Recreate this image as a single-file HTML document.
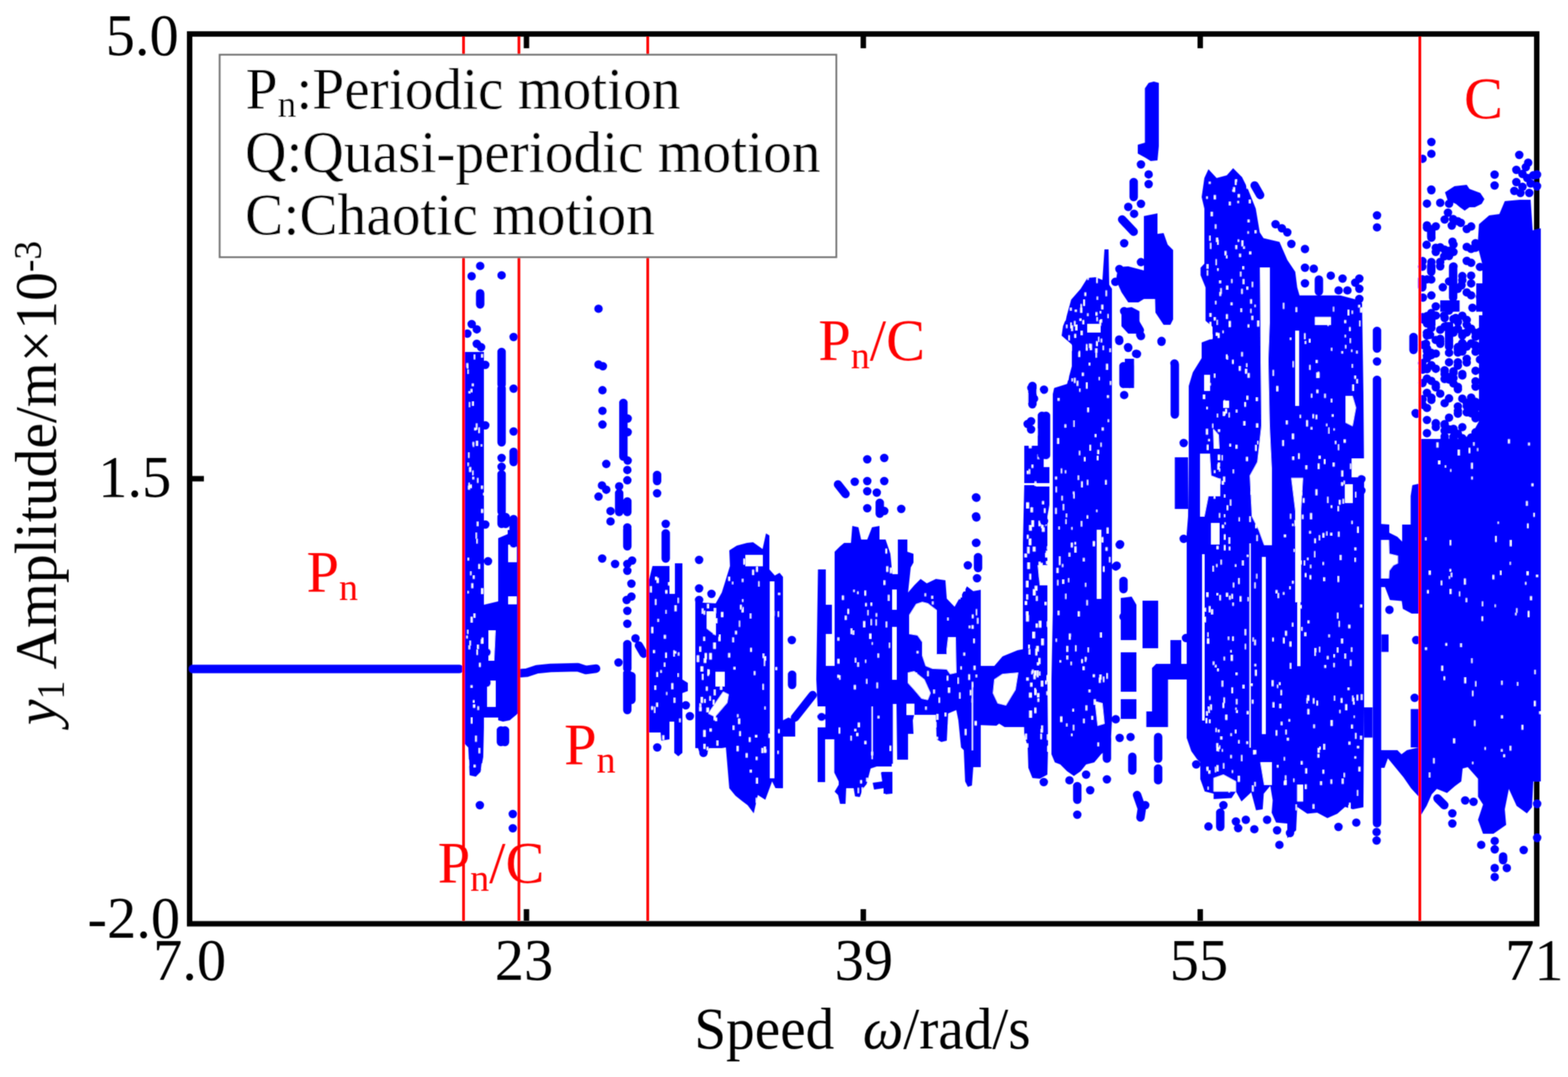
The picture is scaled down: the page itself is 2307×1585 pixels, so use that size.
<!DOCTYPE html>
<html><head><meta charset="utf-8"><title>Bifurcation diagram</title>
<style>html,body{margin:0;padding:0;background:#fff;}body{width:2307px;height:1585px;overflow:hidden}svg{display:block}text{font-family:"Liberation Serif", "Times New Roman", serif;}</style>
</head><body>
<svg width="2307" height="1585" viewBox="0 0 2307 1585">
<defs><filter id="soft" filterUnits="userSpaceOnUse" x="0" y="0" width="2307" height="1585"><feConvolveMatrix order="3" kernelMatrix="1 2 1 2 6 2 1 2 1" divisor="18" edgeMode="duplicate"/></filter></defs>
<rect width="2307" height="1585" fill="#fff"/>
<g filter="url(#soft)">
<rect x="279" y="50" width="1982" height="1309.5" fill="none" stroke="#000" stroke-width="8"/>
<path d="M774.6,1355V1338M774.6,54V71M1270.2,1355V1338M1270.2,54V71M1765.9,1355V1338M1765.9,54V71M283,704.5H300M2257,704.5H2240" stroke="#000" stroke-width="8" fill="none"/>
<g fill="#0000ff" stroke="none">
<polygon points="684,518 712,518 712,1070 711,1114 707,1136 700,1143 691,1141 689,1100 684,1095"/>
<polygon points="733,792 747,786 747,780 762,780 762,1050 750,1060 740,1062 733,1060"/>
<polygon points="712,890 733,885 733,1056 712,1056"/>
<polygon points="955,853 960,833 985,833 985,874 993,874 993,829 1004,829 1004,1000 1012,1005 1012,1017 1004,1020 1004,1108 998,1113 992,1108 992,1062 985,1062 985,1088 973,1090 972,1078 955,1078"/>
<polygon points="1023,885 1035,887 1053,888 1062,872 1067,856 1074,833 1073,810 1084,803 1099,799 1108,798 1122,808 1127,785 1132,788 1132,838 1140,847 1147,843 1152,849 1152,1060 1160,1056 1170,1060 1170,1084 1152,1084 1152,1160 1141,1160 1136,1150 1126,1177 1115,1170 1109,1197 1100,1185 1092,1179 1082,1171 1073,1160 1071,1136 1068,1100 1062,1101 1043,1101 1040,1110 1030,1110 1027,1101 1023,1101"/>
<polygon points="1203.5,838 1215,838 1215,890 1224,890 1224,933 1215,933 1215,980 1228,980 1228,812 1236,804 1242,799 1252,799 1254,774 1263,776 1267,794 1276,794 1283,776 1294,774 1294,794 1303,794 1310,815 1313,845 1321,845 1321,794 1335,794 1335,812 1344,815 1344,828 1340,835 1336,872 1345.5,861 1354.5,852 1363.6,858.6 1377,852 1391,854 1393,881 1404.5,893 1413.6,877 1422.7,863 1432,870 1443,868 1443,1129 1432,1129 1430,1156 1424,1158 1420,1150 1418,1104 1414,1100 1410,1060 1407,1045 1395,1050 1393,1090 1385,1092 1378,1088 1377,1052 1345,1052 1343,1060 1344,1080 1336,1080 1336,1118 1320,1118 1319,1036 1313.6,1036 1313.6,1124 1300,1126 1300,1098 1312,1096 1312,1128 1290,1128 1281,1131 1275,1154 1270,1160 1265,1173 1258,1172 1256,1160 1245,1160 1244,1183 1236,1183 1233,1170 1228,1165 1234,1155 1234,1150 1227.5,1137 1227.5,1088 1214,1088 1214,1151 1203,1151 1203,1072 1203,1040 1201,1000"/>
<polygon points="1296,1136 1312,1136 1312,1168 1303,1169 1300,1160 1286,1162 1284,1152 1298,1150"/>
<polygon points="1300,1136 1313,1136 1313,1168 1300,1168"/>
<polygon points="1440,980 1463,980 1475,966 1497,957 1507,955 1507,1070 1478,1070 1470,1065 1466,1068 1440,1067"/>
<polygon points="1625,367 1631,367 1632,419 1636,425 1636,1060 1634,1099 1620,1110 1610,1122 1598,1125 1590,1135 1580,1142 1570,1135 1560,1125 1552,1122 1547,1110 1547,1000 1549,900 1549,580 1551,571 1570,565 1577,539 1577,507 1562,494 1564,480 1568,470 1576,441 1590,425 1600,409 1612,408 1622,412"/>
<polygon points="1507,714 1523,714 1525,716 1544,716 1544,743 1541,760 1541,1000 1542,1100 1541,1140 1530,1146 1519,1145 1513,1130 1512,1099 1507,1080 1505,1000 1505,800"/>
<polygon points="1507,656 1544,656 1544,711 1507,711"/>
<polygon points="1684.5,130 1690,122 1697.6,120 1705,122 1705,215 1703,236 1693,237 1685,232 1674,226 1674,213 1684.5,210"/>
<polygon points="1683,318 1703,314 1703,440 1683,440"/>
<polygon points="1697,345 1712,343 1718,360 1726,368 1726,470 1722,478 1712,478 1700,460"/>
<polygon points="1645,393 1660,392 1683,398 1683,440 1675,445 1660,445 1650,430 1642,412"/>
<polygon points="1650,454 1665,452 1676.5,458 1676.5,491 1660,491 1650,480"/>
<polygon points="1655,528 1668.5,528 1668.5,571 1655,571"/>
<polygon points="1649,880 1665,878 1672,890 1672,942 1649,942"/>
<polygon points="1649,960 1672,960 1672,1018 1649,1018"/>
<polygon points="1649,1029 1672,1029 1672,1058 1649,1058"/>
<polygon points="1681,884 1704,884 1704,954 1681,954"/>
<polygon points="1695,983 1701,977 1747.5,977 1747.5,1000 1718.5,1000 1718.5,1070 1695,1070"/>
<polygon points="1686.6,1047 1701,1047 1701,1070 1686.6,1070"/>
<polygon points="1722,942 1738,942 1738,983 1722,983"/>
<polygon points="1728.5,673 1748,673 1748,749 1728.5,749"/>
<polygon points="1746,1086 1746,1008 1746,785 1748,760 1749,680 1749,568 1755,548 1768,527 1768,504 1784,498 1784,481 1773.7,472 1773.7,423 1766.4,405 1766.4,394 1772,388 1772,307 1768,290 1772,262 1778,249 1790,262 1805,258 1814.3,247.6 1827.3,260.6 1836,278 1847.6,307 1853.5,342 1859,350.5 1882.5,356 1894,382.5 1905.7,400 1908.6,423 1912,434.7 1972,434.7 1994,440.5 2004,446 2006,580 2007,700 2007,1040 2006,1188 1990.6,1191 1979,1187.6 1967.7,1197.5 1953,1204 1938,1196 1923.4,1197.5 1908.6,1187.6 1907,1222 1894,1233.5 1894,1212 1877.5,1210.6 1871,1196 1872.5,1177.8 1869,1156.5 1859.4,1168 1857.8,1191 1848,1192.5 1841,1166 1826.6,1179.4 1818.4,1164.7 1812,1174.5 1785.6,1176 1785.6,1168 1772.5,1164.7 1766,1146.6 1766,1122 1761,1117 1752.8,1105.6"/>
<polygon points="2007,1041 2019.5,1041 2019.5,1085.5 2007,1085.5"/>
<polygon points="2087,712 2078,714 2075.5,730 2075.5,772 2063,772 2063,797 2056,790 2044,784 2044,772 2031,771 2031,864 2037.7,864 2045,883 2062.4,884.5 2064,896 2077,903 2087,903"/>
<polygon points="2032.4,933.7 2043,933.7 2043,959.4 2032.4,959.4"/>
<polygon points="2075.6,1043.5 2087,1043.5 2087,1100 2075.6,1100"/>
<polygon points="2032,1104 2056,1104 2062,1110 2070,1104 2087,1100 2087,1172 2076,1160 2065,1144 2042,1116 2037,1130 2032,1130"/>
<polygon points="2176,330 2191,317 2206,315 2214,296 2236,294 2252,294 2255,339 2267,336 2267,1150 2256,1150 2254,1188 2246.5,1197 2231.4,1186 2220,1161 2214,1191 2216,1214 2197.3,1227 2182,1227 2174.6,1206.5 2182,1184 2174.6,1172.5 2174.6,1146 2159.5,1129 2152,1131 2150,1150 2140.5,1157 2129,1167 2114,1161 2106.5,1169 2099,1186 2091,1199 2089,1199 2089,646 2150,646 2165,640 2176,620 2176,464 2181,464 2181,389 2174,362"/>
<polygon points="2126,283 2140,274 2158,272 2162,278 2178,284 2184,293 2180,300 2170,305 2162,305 2155,310 2148,305 2142,300 2130,295"/>
<polygon points="2119,442 2147.5,442 2147.5,458.7 2119,458.7"/>
<polygon points="2126,474 2138,474 2138,506 2126,506"/>
<polygon points="2172,417 2183.4,417 2183.4,458.7 2172,458.7"/>
</g>
<g fill="#fff">
<polygon points="748,802 760,802 760,827 748,827"/>
<polygon points="748,878 760,878 760,889 748,889"/>
<polygon points="717,1002 729,1002 729,1040 717,1040"/>
<polygon points="719,928 729,928 727,972 719,972"/>
<polygon points="1097,817 1122,817 1122,833 1097,833"/>
<polygon points="1040,900 1053,900 1053,935 1040,925"/>
<polygon points="1042,1050 1064,1018 1072,1022 1070,1034 1052,1055"/>
<polygon points="1053,989 1066,989 1066,1010 1053,1010"/>
<polygon points="1133,856 1139,856 1139,1145 1133,1145"/>
<polygon points="1338,905 1348,889 1357,886 1365,888 1378,898 1378,963 1393,963 1393,955 1395,938 1406,938 1407,990 1398,992 1393,985 1372,984 1362,980 1357,965 1357,945 1350,935 1338,933"/>
<polygon points="1336,990 1345,988 1360,1000 1369,1020 1365,1030 1356,1028 1345,1015 1336,1005"/>
<polygon points="1334,1036 1345,1036 1345,1052 1334,1052"/>
<polygon points="1313,823 1319,823 1319,843 1313,843"/>
<polygon points="1313,868 1319,868 1319,897 1313,897"/>
<polygon points="1313,923 1319,923 1319,1000 1313,1000"/>
<polygon points="1203,1040 1214,1040 1214,1070 1203,1070"/>
<polygon points="1282.5,1040 1284,1040 1284,1117 1282.5,1117"/>
<polygon points="1430,1006 1431.5,1006 1431.5,1104 1430,1104"/>
<polygon points="1463,1000 1475,992 1498,990 1494,1015 1480,1038 1468,1035 1461,1020"/>
<polygon points="1614,780 1620,780 1620,881 1614,881"/>
<polygon points="1611,1032 1622,1035 1625,1065 1615,1068"/>
<polygon points="1600,477 1619,477 1619,489 1600,489"/>
<polygon points="1527,832 1541,832 1541,861 1530,861"/>
<polygon points="1536,661 1544,661 1544,687 1536,687"/>
<polygon points="1854,394 1868,394 1868,475 1866,530 1868,626 1871,689 1871,802 1860,802 1852,780 1842,760 1839,700 1850,680 1856,626 1855,533"/>
<polygon points="1934.7,466.6 1958,466.6 1958,478 1934.7,478"/>
<polygon points="1906,487 1911,487 1911,597 1906,597"/>
<polygon points="1900,703.5 1917,703.5 1914,753 1914,886 1906,886 1906,753"/>
<polygon points="1980,583 1990,583 1995,600 1990,627 1980,622"/>
<polygon points="1989,675 2007,675 2007,702 1989,702"/>
<polygon points="1979,713 1990,713 1990,740 1979,740"/>
<polygon points="1854.5,1122 1871,1122 1871,1155 1860,1155"/>
<polygon points="1785.6,1145 1800,1140 1818.4,1150 1818.4,1164.7 1785.6,1164.7"/>
<polygon points="1908.6,1155 1917,1155 1917,1179.4 1908.6,1179.4"/>
<polygon points="1766,668 1780,668 1782,700 1795,705 1795,730 1778,730 1772,760 1766,760"/>
<polygon points="1785,631 1793,640 1794,660 1786,660"/>
<polygon points="1772,552 1780,552 1780,575 1772,575"/>
<polygon points="1800,590 1808,590 1808,600 1800,600"/>
<polygon points="1782,770 1794,770 1794,801 1782,801"/>
<polygon points="1769,816 1772,816 1772,1060 1769,1060"/>
<polygon points="1838.5,800 1840,800 1840,1100 1838.5,1100"/>
<polygon points="1857,820 1862,820 1862,1080 1857,1080"/>
<polygon points="1909,800 1913,800 1913,980 1909,980"/>
<polygon points="2031.5,795 2043.5,795 2044,815 2056.6,818 2056.6,829 2050,832 2044,840 2043.5,851 2031.5,851"/>
</g>
<path fill="#fff" d="M1522.4,862.3h3.8v6.8h-3.8zM1524.3,877.2h2.4v7.1h-2.4zM1528.4,988.2h2.2v5.8h-2.2zM1510.1,997.2h3.4v4.3h-3.4zM1540.4,1081.0h3.3v7.7h-3.3zM1512.4,568.1h3.1v4.4h-3.1zM1513.5,690.6h2.1v6.8h-2.1zM1522.0,1014.9h3.0v7.8h-3.0zM1524.0,917.7h2.9v5.7h-2.9zM1540.9,1097.7h3.7v8.2h-3.7zM1517.7,684.0h2.6v4.4h-2.6zM1533.1,776.2h3.7v6.3h-3.7zM1539.6,1017.5h2.0v5.3h-2.0zM1537.9,813.8h4.0v6.4h-4.0zM1509.5,899.9h3.6v5.6h-3.6zM1510.0,739.6h3.9v8.5h-3.9zM1511.0,693.0h2.2v4.4h-2.2zM1534.1,655.9h3.1v6.7h-3.1zM1513.5,955.2h2.3v7.9h-2.3zM1511.0,787.2h2.4v5.6h-2.4zM1540.0,993.8h2.6v9.3h-2.6zM1514.2,772.9h3.7v7.9h-3.7zM1510.4,1094.2h2.4v5.5h-2.4zM1533.3,737.6h2.6v4.4h-2.6zM1510.1,874.7h2.5v7.6h-2.5zM1519.6,804.7h3.9v6.9h-3.9zM1526.5,1027.9h2.4v4.9h-2.4zM1537.9,1001.6h2.5v5.1h-2.5zM1532.1,1067.8h2.4v9.7h-2.4zM1537.0,885.9h2.8v4.6h-2.8zM1508.3,1079.8h2.5v8.2h-2.5zM1515.7,1004.8h3.2v5.8h-3.2zM1513.0,949.0h2.1v5.4h-2.1zM1526.0,1020.3h3.2v5.7h-3.2zM1538.2,670.1h2.0v5.6h-2.0zM1522.2,592.6h2.4v6.2h-2.4zM1526.5,631.1h2.7v9.3h-2.7zM1540.3,914.7h3.4v7.5h-3.4zM1511.8,578.9h2.0v9.5h-2.0zM1530.8,1079.9h2.0v7.8h-2.0zM1523.4,954.5h2.6v10.0h-2.6zM1509.6,854.9h3.5v9.4h-3.5zM1532.1,940.0h3.6v9.5h-3.6zM1519.0,930.0h3.8v9.2h-3.8zM1521.2,986.9h3.7v7.4h-3.7zM1528.2,766.5h3.2v7.7h-3.2zM1509.7,905.3h4.0v9.3h-4.0zM1531.8,769.8h3.5v7.5h-3.5zM1522.0,1012.7h2.2v8.5h-2.2zM1508.0,884.7h3.0v5.4h-3.0zM1530.7,828.5h3.2v9.5h-3.2zM1515.7,566.1h2.6v8.1h-2.6zM1513.9,651.6h3.8v8.0h-3.8zM1522.0,1041.5h2.7v8.0h-2.7zM1513.7,792.7h3.6v9.5h-3.6zM1536.9,767.6h3.2v5.9h-3.2zM1511.6,828.1h3.7v9.1h-3.7zM1531.2,1073.0h2.6v5.0h-2.6zM1522.3,708.6h2.4v6.5h-2.4zM1528.3,826.7h2.6v9.0h-2.6zM1540.4,804.3h2.1v4.2h-2.1zM1536.7,582.4h3.4v7.4h-3.4zM1517.5,987.4h2.0v4.8h-2.0zM1522.5,573.4h3.7v5.4h-3.7zM1511.8,585.3h3.3v6.7h-3.3zM1528.4,913.7h3.6v9.8h-3.6zM1530.3,667.6h3.0v5.1h-3.0zM1507.4,815.0h3.4v5.1h-3.4zM1516.3,746.7h3.4v7.1h-3.4zM1527.9,968.4h2.8v8.8h-2.8zM1537.8,607.1h3.9v8.3h-3.9zM1511.4,804.9h3.3v9.5h-3.3zM1519.8,867.2h3.8v8.8h-3.8zM1539.1,810.4h3.3v5.2h-3.3zM1531.5,1001.9h3.3v8.3h-3.3zM1514.3,1046.0h4.0v9.9h-4.0zM1525.3,987.0h2.6v9.5h-2.6zM1536.1,748.2h2.2v6.6h-2.2zM1525.7,974.8h3.0v4.2h-3.0zM1534.5,594.6h3.6v5.0h-3.6zM1518.4,985.5h2.3v4.9h-2.3zM1524.6,950.7h3.7v8.1h-3.7zM1539.2,826.0h3.9v4.5h-3.9zM1514.5,844.4h2.6v8.4h-2.6zM1528.7,842.3h3.7v7.4h-3.7zM1517.6,765.9h3.7v9.4h-3.7zM1514.1,1019.4h3.9v7.1h-3.9zM1526.5,668.5h3.1v7.0h-3.1zM1527.6,575.0h3.9v7.1h-3.9zM1520.6,992.6h3.1v6.9h-3.1zM1597.7,511.8h2.5v3.9h-2.5zM1565.7,463.7h1.9v7.9h-1.9zM1612.7,502.2h2.3v7.0h-2.3zM1575.0,474.8h1.7v8.4h-1.7zM1569.1,539.2h1.6v7.1h-1.6zM1588.3,468.8h2.8v3.1h-2.8zM1569.2,555.6h2.3v3.5h-2.3zM1633.1,560.9h1.7v5.5h-1.7zM1574.3,453.1h2.4v4.0h-2.4zM1613.1,408.7h1.8v7.9h-1.8zM1592.6,471.2h2.4v5.9h-2.4zM1591.5,405.2h2.6v8.8h-2.6zM1632.4,512.8h2.0v5.2h-2.0zM1612.6,514.5h1.7v4.4h-1.7zM1590.1,486.9h2.7v6.0h-2.7zM1566.9,539.8h2.1v6.1h-2.1zM1580.3,472.6h2.1v7.6h-2.1zM1572.1,493.5h1.8v7.2h-1.8zM1567.5,447.0h2.0v6.8h-2.0zM1568.6,478.1h1.8v4.7h-1.8zM1597.9,563.0h2.2v8.7h-2.2zM1576.6,557.1h2.0v4.1h-2.0zM1616.6,555.0h1.5v4.6h-1.5zM1618.2,458.1h1.9v3.1h-1.9zM1567.8,505.2h3.0v9.0h-3.0zM1599.7,404.1h2.0v7.7h-2.0zM1622.4,508.7h1.8v6.2h-1.8zM1597.9,506.6h1.9v8.7h-1.9zM1626.7,427.6h1.9v8.2h-1.9zM1584.2,560.5h2.3v7.2h-2.3zM1613.6,436.4h1.9v4.5h-1.9zM1612.1,518.0h1.7v8.3h-1.7zM1594.0,441.0h2.2v8.9h-2.2zM1603.6,506.2h2.9v8.8h-2.9zM1617.5,471.0h2.4v8.4h-2.4zM1619.5,498.6h2.0v5.2h-2.0zM1615.8,495.8h1.5v7.3h-1.5zM1627.4,535.6h2.8v8.5h-2.8zM1601.9,534.1h2.1v3.6h-2.1zM1589.4,453.1h2.9v7.1h-2.9zM1602.4,505.8h1.7v6.2h-1.7zM1613.3,467.0h1.9v5.4h-1.9zM1587.3,516.5h1.7v3.5h-1.7zM1586.6,518.3h2.6v7.0h-2.6zM1629.5,462.2h1.5v5.9h-1.5zM1595.6,430.5h2.5v5.0h-2.5zM1581.4,455.7h2.9v3.0h-2.9zM1589.9,447.5h1.8v5.6h-1.8zM1580.2,556.2h2.3v7.2h-2.3zM1576.2,479.0h2.4v8.1h-2.4zM1582.2,478.1h2.8v8.0h-2.8zM1580.7,491.5h2.6v5.4h-2.6zM1611.5,512.8h3.0v6.3h-3.0zM1612.0,459.5h2.6v4.9h-2.6zM1599.5,461.3h2.0v3.8h-2.0zM1580.6,492.5h1.9v3.3h-1.9zM1620.4,448.6h2.9v6.6h-2.9zM1591.8,548.4h2.8v4.9h-2.8zM1573.7,509.0h2.8v6.7h-2.8zM1619.1,470.1h2.4v4.6h-2.4zM1572.7,933.2h2.5v8.1h-2.5zM1566.9,692.2h1.7v4.4h-1.7zM1610.7,639.0h2.3v4.3h-2.3zM1575.6,798.7h2.8v6.7h-2.8zM1553.2,716.2h1.7v8.2h-1.7zM1616.8,997.2h2.7v7.5h-2.7zM1627.9,990.7h1.9v8.1h-1.9zM1590.9,970.2h2.3v5.6h-2.3zM1581.1,797.8h2.0v3.7h-2.0zM1617.6,993.1h3.0v7.1h-3.0zM1596.3,966.7h1.7v7.1h-1.7zM1587.5,663.6h1.8v6.1h-1.8zM1572.3,813.5h2.4v5.4h-2.4zM1562.5,830.2h1.9v4.4h-1.9zM1567.6,764.2h1.6v6.9h-1.6zM1628.3,776.5h2.6v8.6h-2.6zM1555.5,645.1h2.7v8.0h-2.7zM1603.1,654.7h2.1v8.2h-2.1zM1622.9,995.7h1.8v8.1h-1.8zM1582.0,949.8h1.7v8.8h-1.7zM1600.3,953.0h1.8v6.7h-1.8zM1598.5,883.3h2.0v7.4h-2.0zM1579.3,726.5h1.7v7.1h-1.7zM1561.0,689.5h1.6v6.9h-1.6zM1596.5,858.0h1.6v5.6h-1.6zM1579.4,619.1h1.5v9.0h-1.5zM1561.7,729.8h1.9v6.6h-1.9zM1558.2,819.0h2.1v8.0h-2.1zM1552.5,747.4h2.2v8.8h-2.2zM1593.3,821.3h2.5v4.8h-2.5zM1554.5,835.7h2.9v7.4h-2.9zM1572.7,932.5h2.8v4.6h-2.8zM1599.0,758.4h1.9v4.7h-1.9zM1568.3,755.9h1.6v5.4h-1.6zM1558.9,971.8h2.4v3.0h-2.4zM1613.9,670.9h2.2v6.3h-2.2zM1578.6,723.4h2.2v3.8h-2.2zM1621.1,629.3h2.7v4.3h-2.7zM1576.3,775.8h1.6v3.8h-1.6zM1580.9,804.2h2.8v8.9h-2.8zM1555.5,853.6h1.7v7.8h-1.7zM1577.8,1043.2h2.3v3.8h-2.3zM1552.4,701.5h2.8v3.9h-2.8zM1590.3,767.0h2.0v7.8h-2.0zM1569.1,950.7h2.5v8.6h-2.5zM1593.6,1057.8h2.2v6.4h-2.2zM1601.6,1015.0h2.8v3.7h-2.8zM1563.0,852.9h2.7v6.2h-2.7zM1576.0,1079.8h1.9v3.5h-1.9zM1556.2,586.1h2.6v3.6h-2.6zM1609.3,1029.2h3.0v7.9h-3.0zM1585.9,899.7h2.7v7.3h-2.7zM1575.2,973.9h1.7v4.9h-1.7zM1631.7,819.8h1.9v7.7h-1.9zM1588.0,571.9h1.5v4.6h-1.5zM1578.6,1066.7h1.9v8.1h-1.9zM1620.3,790.6h3.0v7.6h-3.0zM1590.7,708.6h2.2v8.4h-2.2zM1594.9,672.8h2.1v5.9h-2.1zM1567.3,873.7h1.6v7.9h-1.6zM1566.3,624.5h2.4v4.8h-2.4zM1622.8,833.4h2.3v8.0h-2.3zM1569.1,965.0h2.5v5.6h-2.5zM1628.7,581.7h2.8v3.9h-2.8zM1619.2,651.5h1.6v6.0h-1.6zM1626.1,706.4h2.2v6.6h-2.2zM1571.5,851.1h1.5v5.7h-1.5zM1612.8,750.2h1.8v3.3h-1.8zM1608.0,796.4h2.9v7.4h-2.9zM1560.0,1054.5h2.9v7.9h-2.9zM1618.5,931.1h2.6v7.0h-2.6zM1599.3,706.3h1.7v7.4h-1.7zM1599.7,599.9h2.5v6.7h-2.5zM1592.9,980.8h2.8v5.3h-2.8zM1617.2,834.6h2.4v5.5h-2.4zM1626.6,805.6h2.9v5.0h-2.9zM1605.8,1053.7h2.5v5.3h-2.5zM1558.2,823.5h2.1v7.9h-2.1zM1614.7,1092.7h2.2v5.5h-2.2zM1597.1,967.3h1.6v4.3h-1.6zM1563.7,742.0h1.9v8.8h-1.9zM1568.6,1064.7h1.9v4.2h-1.9zM1629.9,617.2h1.7v3.8h-1.7zM1557.4,774.9h1.8v4.0h-1.8zM1553.3,940.1h1.6v4.4h-1.6zM1597.2,1038.3h2.5v7.3h-2.5zM1608.0,992.5h2.8v3.9h-2.8zM1556.3,899.1h2.3v6.1h-2.3zM1614.5,662.3h2.6v5.6h-2.6zM1585.7,699.7h1.9v6.5h-1.9zM1778.5,892.3h2.5v8.6h-2.5zM1791.7,490.2h2.6v7.0h-2.6zM1794.2,875.8h2.1v7.7h-2.1zM1779.5,460.9h2.9v5.1h-2.9zM1790.8,983.9h2.4v3.9h-2.4zM1814.1,857.6h1.7v6.9h-1.7zM1779.8,563.4h1.6v4.2h-1.6zM1848.2,623.3h3.0v5.6h-3.0zM1818.6,1045.3h2.5v3.7h-2.5zM1817.1,830.4h1.8v3.6h-1.8zM1840.0,722.4h1.8v5.7h-1.8zM1787.5,978.4h2.3v3.6h-2.3zM1835.5,340.6h1.9v3.2h-1.9zM1829.2,362.5h2.3v3.6h-2.3zM1808.4,876.8h2.3v5.7h-2.3zM1808.8,653.3h2.4v3.6h-2.4zM1808.0,472.6h2.8v8.6h-2.8zM1775.3,389.0h2.6v6.4h-2.6zM1771.5,894.4h2.9v5.5h-2.9zM1797.8,772.5h2.9v4.6h-2.9zM1794.2,429.8h2.4v5.8h-2.4zM1790.5,609.1h1.6v4.9h-1.6zM1848.6,787.4h1.9v8.6h-1.9zM1798.7,486.4h1.6v3.9h-1.6zM1785.9,467.0h2.8v4.6h-2.8zM1789.9,803.5h2.9v4.7h-2.9zM1830.9,591.9h2.3v6.6h-2.3zM1845.4,941.5h2.3v8.0h-2.3zM1799.3,605.7h2.9v6.3h-2.9zM1831.9,543.0h2.9v6.7h-2.9zM1789.8,1100.3h2.2v5.0h-2.2zM1791.0,352.9h1.8v7.2h-1.8zM1781.3,492.8h2.2v6.3h-2.2zM1800.4,966.6h1.9v5.2h-1.9zM1804.0,376.0h1.8v3.9h-1.8zM1828.0,391.9h2.5v4.3h-2.5zM1821.8,850.9h2.0v8.6h-2.0zM1822.5,761.6h1.6v5.4h-1.6zM1791.3,682.9h2.9v8.2h-2.9zM1775.0,872.1h2.9v6.3h-2.9zM1777.7,1040.1h2.1v8.9h-2.1zM1840.0,1006.0h2.9v3.4h-2.9zM1833.5,534.7h1.7v5.3h-1.7zM1817.1,264.4h2.2v7.7h-2.2zM1809.6,735.3h1.9v8.8h-1.9zM1789.9,873.0h2.5v3.0h-2.5zM1849.7,471.9h3.0v8.6h-3.0zM1842.1,1029.7h2.1v5.7h-2.1zM1797.7,1102.4h1.5v3.8h-1.5zM1846.5,985.8h2.6v8.8h-2.6zM1811.9,1011.7h2.2v8.4h-2.2zM1775.6,654.5h2.4v7.8h-2.4zM1803.8,872.5h3.0v5.5h-3.0zM1786.0,287.3h2.8v5.9h-2.8zM1801.0,727.7h1.7v4.3h-1.7zM1788.9,489.6h2.8v4.5h-2.8zM1777.2,1040.0h2.3v3.2h-2.3zM1824.0,877.6h2.5v7.6h-2.5zM1803.9,462.4h2.6v6.8h-2.6zM1826.3,425.3h2.1v7.1h-2.1zM1800.8,802.2h2.2v7.5h-2.2zM1797.9,708.1h2.7v4.9h-2.7zM1784.1,832.9h1.7v8.1h-1.7zM1792.0,1073.7h2.3v3.9h-2.3zM1811.7,874.3h2.2v6.8h-2.2zM1799.5,1123.3h1.8v7.8h-1.8zM1771.9,716.4h1.6v3.8h-1.6zM1817.1,1073.9h2.0v5.4h-2.0zM1808.1,804.6h2.0v5.1h-2.0zM1838.3,760.1h2.0v7.9h-2.0zM1849.9,649.0h1.5v4.8h-1.5zM1841.8,414.7h1.8v7.8h-1.8zM1779.1,1024.5h1.8v5.3h-1.8zM1817.6,360.9h2.7v5.6h-2.7zM1831.6,947.6h1.6v7.9h-1.6zM1835.7,477.6h2.4v4.2h-2.4zM1813.1,936.7h2.1v6.2h-2.1zM1780.5,1036.8h2.4v8.0h-2.4zM1776.5,930.8h1.6v6.3h-1.6zM1788.5,1071.4h1.7v5.8h-1.7zM1807.7,607.3h1.6v7.0h-1.6zM1847.8,584.9h2.8v5.0h-2.8zM1791.9,669.3h3.0v7.7h-3.0zM1820.6,295.7h2.2v3.1h-2.2zM1775.0,598.7h1.9v3.6h-1.9zM1810.9,964.1h2.9v8.5h-2.9zM1804.1,420.6h2.9v5.5h-2.9zM1797.4,1001.7h2.3v8.7h-2.3zM1826.1,1111.3h1.7v8.7h-1.7zM1813.3,886.9h2.0v4.5h-2.0zM1793.7,413.0h2.9v3.7h-2.9zM1789.4,830.2h1.8v4.3h-1.8zM1790.2,470.7h1.5v7.4h-1.5zM1822.7,539.1h2.8v6.4h-2.8zM1787.6,1128.5h1.8v7.9h-1.8zM1835.3,262.6h2.8v5.5h-2.8zM1810.2,1111.3h2.2v4.4h-2.2zM1774.0,1056.9h2.2v7.3h-2.2zM1821.3,1142.0h2.9v8.6h-2.9zM1810.4,1079.3h2.0v3.7h-2.0zM1821.2,285.7h3.0v4.9h-3.0zM1803.9,521.7h2.0v6.2h-2.0zM1834.1,273.0h2.0v4.5h-2.0zM1846.7,655.0h2.2v8.6h-2.2zM1801.0,606.1h2.1v4.4h-2.1zM1826.3,518.2h2.3v6.4h-2.3zM1831.3,926.0h2.2v8.7h-2.2zM1845.7,1104.0h2.6v5.7h-2.6zM1798.8,1034.3h2.2v7.5h-2.2zM1801.0,588.8h1.5v7.4h-1.5zM1793.2,704.6h2.6v8.0h-2.6zM1845.6,857.2h1.8v8.6h-1.8zM1774.4,631.3h2.9v8.1h-2.9zM1817.6,1041.6h1.8v3.2h-1.8zM1793.7,1097.3h1.6v5.0h-1.6zM1810.6,445.3h2.8v3.6h-2.8zM1776.8,1157.7h1.5v4.3h-1.5zM1802.7,1052.3h2.0v6.4h-2.0zM1834.4,816.5h2.7v3.1h-2.7zM1813.3,278.8h2.8v3.2h-2.8zM1777.6,646.2h2.4v3.1h-2.4zM1821.2,352.5h2.0v3.3h-2.0zM1828.2,1008.1h2.7v4.9h-2.7zM1790.0,1126.2h2.7v8.8h-2.7zM1803.2,1051.8h2.5v7.7h-2.5zM1811.0,965.7h2.2v4.6h-2.2zM1808.2,296.9h2.5v5.0h-2.5zM1784.4,973.5h2.3v4.9h-2.3zM1843.8,1103.9h2.1v6.3h-2.1zM1770.0,581.0h3.0v6.1h-3.0zM1849.5,285.9h1.5v3.4h-1.5zM1776.0,939.6h3.0v7.6h-3.0zM1818.4,603.1h2.1v3.8h-2.1zM1801.8,369.5h2.7v6.2h-2.7zM1800.2,1026.6h2.0v8.2h-2.0zM1827.4,825.1h2.4v6.8h-2.4zM1842.2,1155.9h2.3v8.8h-2.3zM1789.6,1093.8h2.8v6.8h-2.8zM1778.8,1059.0h2.1v5.0h-2.1zM1846.1,338.9h2.5v4.4h-2.5zM1839.6,454.6h1.7v5.9h-1.7zM1806.6,936.9h1.9v4.8h-1.9zM1793.5,755.3h1.7v6.4h-1.7zM1835.6,878.9h1.9v5.9h-1.9zM1777.5,684.4h2.6v3.0h-2.6zM1821.8,1089.2h1.9v4.9h-1.9zM1824.5,400.0h1.9v6.7h-1.9zM1811.5,410.7h1.8v5.9h-1.8zM1839.4,440.6h2.5v6.2h-2.5zM1792.2,632.0h2.7v3.6h-2.7zM1813.8,690.9h1.7v5.5h-1.7zM1783.6,623.4h1.5v6.4h-1.5zM1834.4,1046.4h2.9v4.5h-2.9zM1834.0,582.5h2.6v5.8h-2.6zM1829.4,620.1h2.9v5.8h-2.9zM1833.9,422.0h2.6v4.3h-2.6zM1802.7,601.7h2.5v6.5h-2.5zM1792.0,1099.8h1.6v5.9h-1.6zM1780.4,357.6h1.8v8.7h-1.8zM1771.8,907.7h2.4v8.0h-2.4zM1838.0,370.3h2.9v3.9h-2.9zM1779.6,473.8h2.5v6.5h-2.5zM1825.2,454.0h2.2v5.0h-2.2zM1847.0,771.5h2.5v5.7h-2.5zM1779.3,346.9h1.8v7.4h-1.8zM1786.2,692.2h2.0v3.8h-2.0zM1799.6,701.5h2.9v7.7h-2.9zM1804.8,523.8h1.9v5.1h-1.9zM1812.5,1133.4h1.6v4.1h-1.6zM1801.7,768.7h1.6v3.1h-1.6zM1814.3,275.4h2.7v7.0h-2.7zM1807.4,1157.5h2.2v8.7h-2.2zM1787.5,330.2h2.1v6.2h-2.1zM1823.2,373.4h2.6v4.8h-2.6zM1845.6,977.2h2.7v3.3h-2.7zM1774.7,289.3h2.2v3.2h-2.2zM1781.4,312.1h3.0v5.8h-3.0zM1790.9,395.0h1.9v3.6h-1.9zM1833.7,1091.3h2.7v3.5h-2.7zM1818.5,1028.7h2.1v7.7h-2.1zM1771.0,726.7h2.6v5.6h-2.6zM1778.0,1133.8h2.7v4.7h-2.7zM1828.4,410.8h2.4v7.3h-2.4zM1817.9,654.7h2.7v5.5h-2.7zM1775.7,397.9h1.7v7.7h-1.7zM1775.1,1128.9h2.4v3.4h-2.4zM1845.6,1150.9h1.9v6.4h-1.9zM1788.6,381.6h1.6v8.3h-1.6zM1787.8,443.1h1.8v4.7h-1.8zM1845.7,448.5h1.8v3.3h-1.8zM1826.6,353.9h2.7v8.6h-2.7zM1792.1,680.9h2.7v5.9h-2.7zM1795.4,1083.9h3.0v4.4h-3.0zM1837.5,293.9h2.7v5.1h-2.7zM1849.0,283.2h1.8v5.4h-1.8zM1810.3,956.7h1.7v3.4h-1.7zM1789.3,349.9h2.9v6.1h-2.9zM1786.2,550.0h1.9v5.7h-1.9zM1795.8,823.7h1.8v7.1h-1.8zM1843.1,938.2h1.6v5.9h-1.6zM1835.6,323.3h2.9v3.7h-2.9zM1778.5,267.4h2.8v3.2h-2.8zM1807.6,790.9h2.2v9.0h-2.2zM1817.8,263.9h2.1v3.9h-2.1zM1841.3,465.1h2.5v5.7h-2.5zM1805.0,743.8h1.9v6.9h-1.9zM1818.0,990.0h2.7v3.6h-2.7zM1835.6,549.3h3.0v6.4h-3.0zM1785.7,727.6h2.3v6.1h-2.3zM1800.8,786.5h2.3v7.8h-2.3zM1797.4,670.1h1.5v7.5h-1.5zM1774.6,1046.7h2.3v6.4h-2.3zM1801.0,757.0h1.6v3.9h-1.6zM1812.8,529.5h2.3v6.0h-2.3zM1848.3,844.5h1.5v7.0h-1.5zM1795.5,424.2h2.0v8.4h-2.0zM1833.3,672.4h2.8v6.1h-2.8zM1781.9,896.8h2.8v7.1h-2.8zM1793.5,689.2h1.7v4.5h-1.7zM1775.3,1128.5h2.6v5.9h-2.6zM1998.4,448.7h2.6v3.9h-2.6zM2001.2,452.6h2.8v7.1h-2.8zM1984.0,1184.9h1.9v5.0h-1.9zM1964.2,649.0h1.9v4.4h-1.9zM1984.1,1091.5h2.7v4.3h-2.7zM1993.0,821.0h1.8v5.7h-1.8zM1925.8,498.8h2.3v5.2h-2.3zM1945.8,1133.0h2.5v5.4h-2.5zM1984.9,1181.4h2.2v8.7h-2.2zM1872.5,544.5h1.8v8.6h-1.8zM1961.8,975.7h1.9v6.0h-1.9zM1988.0,514.4h1.7v3.3h-1.7zM1932.3,1066.2h2.3v5.4h-2.3zM1936.8,573.5h2.9v5.1h-2.9zM1901.3,671.9h2.7v4.9h-2.7zM1990.3,690.5h2.2v3.4h-2.2zM1990.7,1033.1h2.2v3.7h-2.2zM1935.5,720.2h2.8v8.6h-2.8zM1968.6,654.0h1.6v8.4h-1.6zM1995.6,558.0h2.2v5.9h-2.2zM1999.9,472.1h1.6v8.1h-1.6zM1945.8,784.4h2.7v6.6h-2.7zM1962.1,630.4h1.6v3.1h-1.6zM1914.3,923.1h2.1v5.1h-2.1zM1952.3,965.4h2.4v4.9h-2.4zM1979.3,1036.5h2.8v8.4h-2.8zM1872.0,938.5h2.0v5.3h-2.0zM1938.9,547.2h1.9v8.9h-1.9zM1914.0,1120.2h2.5v4.9h-2.5zM1912.4,890.6h2.6v5.0h-2.6zM1877.9,568.3h2.8v7.4h-2.8zM1884.4,1062.2h2.4v5.0h-2.4zM1988.9,535.9h1.6v5.1h-1.6zM1968.1,848.1h2.2v8.4h-2.2zM1922.4,1027.2h1.5v7.7h-1.5zM1890.7,928.5h2.8v6.9h-2.8zM1947.0,849.8h2.6v5.2h-2.6zM1901.1,855.0h2.3v3.7h-2.3zM1940.5,787.8h1.7v7.2h-1.7zM1973.5,692.4h2.8v8.9h-2.8zM1958.1,743.8h1.9v3.8h-1.9zM1906.3,1184.1h1.6v8.5h-1.6zM1962.7,1024.0h1.6v6.9h-1.6zM1897.3,944.3h2.7v7.3h-2.7zM1941.2,1099.0h1.8v3.9h-1.8zM1985.1,481.5h2.1v5.5h-2.1zM1986.7,717.4h2.4v6.0h-2.4zM1933.7,792.6h2.2v6.6h-2.2zM1927.5,755.2h2.9v8.9h-2.9zM1902.9,1145.7h1.5v5.0h-1.5zM1989.6,566.0h2.5v9.0h-2.5zM1951.4,782.3h1.5v5.7h-1.5zM1931.7,1027.6h2.1v7.8h-2.1zM1923.9,913.3h2.6v4.0h-2.6zM1996.8,775.3h2.2v8.8h-2.2zM1946.0,827.3h1.8v4.3h-1.8zM1971.2,816.9h2.5v7.2h-2.5zM1960.8,680.9h2.8v5.7h-2.8zM1893.4,1086.1h2.9v3.7h-2.9zM1987.7,952.8h1.9v6.5h-1.9zM1992.6,553.1h2.5v4.4h-2.5zM1889.9,1148.1h3.0v6.9h-3.0zM1975.4,734.3h2.1v6.7h-2.1zM1978.2,962.1h2.2v6.8h-2.2zM1923.6,1043.6h2.8v7.6h-2.8zM1912.8,723.9h3.0v5.3h-3.0zM1958.4,511.9h1.7v4.4h-1.7zM1959.5,609.8h2.5v3.4h-2.5zM1962.0,963.1h1.9v4.4h-1.9zM1903.4,807.9h1.8v4.4h-1.8zM1977.0,1137.6h1.7v6.1h-1.7zM1957.6,1147.2h2.3v6.2h-2.3zM1972.6,1027.6h2.6v6.7h-2.6zM1977.9,471.3h2.7v4.3h-2.7zM1917.0,733.3h2.3v6.5h-2.3zM1948.0,675.9h2.0v6.9h-2.0zM1993.9,724.0h1.5v8.1h-1.5zM1988.0,1066.4h2.5v5.5h-2.5zM1878.7,1125.9h2.2v3.7h-2.2zM1953.1,473.0h2.1v6.6h-2.1zM1976.8,707.6h1.8v5.1h-1.8zM1979.1,507.7h1.7v5.1h-1.7zM1996.6,1098.0h3.0v3.3h-3.0zM1936.7,548.2h2.4v7.8h-2.4zM1934.1,954.1h2.5v6.0h-2.5zM1921.8,618.6h2.6v8.9h-2.6zM1998.7,1128.4h2.8v6.9h-2.8zM1935.9,529.9h2.7v4.1h-2.7zM1993.8,1078.8h1.9v8.4h-1.9zM1970.6,1044.8h1.7v4.6h-1.7zM1890.6,1141.3h1.9v5.7h-1.9zM1970.0,735.8h2.4v6.7h-2.4zM1920.5,1130.8h2.5v7.4h-2.5zM1967.3,901.7h1.8v8.5h-1.8zM1995.4,516.2h2.1v4.1h-2.1zM1887.6,871.5h2.1v3.8h-2.1zM1934.1,958.2h1.7v6.9h-1.7zM1957.7,1060.0h3.0v8.3h-3.0zM1919.7,501.9h2.0v4.0h-2.0zM1983.4,712.7h2.3v7.4h-2.3zM1931.3,1183.5h2.5v6.6h-2.5zM1892.1,619.0h2.5v5.6h-2.5zM1947.1,1095.0h2.5v8.0h-2.5zM1918.8,490.5h1.9v8.4h-1.9zM1901.9,531.4h1.6v9.0h-1.6zM1897.8,496.9h2.0v3.3h-2.0zM1967.1,952.9h2.1v7.4h-2.1zM1872.4,1033.5h2.5v7.5h-2.5zM1889.0,1149.4h3.0v5.9h-3.0zM1912.5,825.0h2.6v5.8h-2.6zM1942.3,1149.9h2.6v5.3h-2.6zM1991.0,1026.9h1.5v6.0h-1.5zM1910.1,667.3h2.1v8.0h-2.1zM1951.2,623.4h1.6v3.9h-1.6zM1919.9,843.6h2.2v5.6h-2.2zM1940.2,670.7h2.9v4.3h-2.9zM1919.1,930.7h2.8v5.4h-2.8zM1954.4,629.2h1.5v8.8h-1.5zM1879.0,1007.8h1.5v4.8h-1.5zM1938.5,1109.9h2.7v4.8h-2.7zM1871.1,1001.2h2.6v8.6h-2.6zM1887.7,938.4h2.4v8.3h-2.4zM1982.7,1012.0h2.8v3.5h-2.8zM2001.3,889.8h2.8v3.9h-2.8zM1938.7,1101.0h2.9v6.7h-2.9zM1988.8,457.3h1.7v4.5h-1.7zM1986.3,971.4h2.1v8.5h-2.1zM1938.5,548.3h2.9v7.4h-2.9zM2002.3,1021.7h2.3v8.4h-2.3zM1887.6,445.7h1.9v8.7h-1.9zM1881.7,1004.3h2.3v3.8h-2.3zM1897.7,975.7h2.1v8.3h-2.1zM1876.8,868.5h2.8v4.4h-2.8zM1906.9,871.6h1.8v6.9h-1.8zM1992.7,678.0h1.8v8.3h-1.8zM1877.1,1074.8h2.1v7.8h-2.1zM1920.0,1154.4h2.5v6.6h-2.5zM1879.8,872.7h1.9v7.3h-1.9zM1912.3,610.6h1.7v4.5h-1.7zM1886.6,648.1h2.3v8.1h-2.3zM1973.3,709.7h2.9v5.1h-2.9zM1926.8,846.4h2.4v6.0h-2.4zM1958.2,587.0h1.8v5.0h-1.8zM1928.4,628.6h2.4v3.4h-2.4zM1926.3,781.4h2.4v3.9h-2.4zM1957.2,784.3h2.9v3.8h-2.9zM1923.3,1023.3h2.9v7.9h-2.9zM1988.4,766.4h1.8v4.5h-1.8zM1954.5,933.7h2.1v4.1h-2.1zM1986.4,682.3h1.9v8.0h-1.9zM1973.2,940.1h2.7v6.7h-2.7zM1952.7,731.3h1.8v8.6h-1.8zM1884.2,1015.6h2.0v7.5h-2.0zM1989.5,1023.8h1.5v8.2h-1.5zM1900.8,638.2h3.0v8.1h-3.0zM1891.3,1073.9h1.9v6.8h-1.9zM1978.5,492.8h1.8v3.8h-1.8zM1889.0,1114.3h1.5v4.9h-1.5zM1982.9,456.0h2.2v8.0h-2.2zM1991.7,1053.2h1.6v3.2h-1.6zM1968.6,782.6h2.2v7.1h-2.2zM1977.0,646.7h2.9v4.8h-2.9zM1985.9,498.1h1.6v6.6h-1.6zM1969.6,913.9h1.6v8.6h-1.6zM1992.8,1113.2h2.6v3.0h-2.6zM1928.9,579.4h1.8v5.9h-1.8zM1983.7,919.5h3.0v5.1h-3.0zM1882.3,1036.1h2.8v6.0h-2.8zM1900.9,916.6h1.9v5.4h-1.9zM1948.5,979.1h2.6v3.6h-2.6zM1923.2,820.8h2.0v3.4h-2.0zM1904.7,765.6h2.4v8.9h-2.4zM1897.1,863.1h1.8v3.8h-1.8zM1907.6,755.8h2.8v4.9h-2.8zM1996.1,1022.5h2.1v8.3h-2.1zM1906.3,452.3h2.2v6.7h-2.2zM1961.3,451.5h1.5v7.1h-1.5zM1992.8,805.7h2.7v4.1h-2.7zM1889.1,786.7h2.9v3.7h-2.9zM1940.8,951.9h1.5v7.8h-1.5zM1895.8,1058.4h2.4v3.3h-2.4zM1898.1,756.2h1.6v7.4h-1.6zM1926.4,537.2h1.8v7.1h-1.8zM1927.5,831.3h1.8v4.7h-1.8zM1901.3,770.8h1.7v3.2h-1.7zM1996.6,1162.7h1.6v8.4h-1.6zM1909.2,838.7h2.3v3.5h-2.3zM1915.4,757.4h2.3v6.3h-2.3zM1918.4,824.9h1.7v7.2h-1.7zM1948.4,579.5h2.2v6.0h-2.2zM1935.7,610.5h2.2v6.3h-2.2zM2001.2,1082.9h2.6v5.1h-2.6zM1939.0,682.2h2.4v7.7h-2.4zM1974.2,1145.9h2.6v7.7h-2.6zM1931.2,609.5h2.1v6.1h-2.1zM1933.6,811.2h1.5v8.9h-1.5zM1920.6,685.1h2.8v5.3h-2.8zM1973.6,517.0h2.3v3.3h-2.3zM1937.1,1031.3h1.9v6.9h-1.9zM1968.1,744.9h1.8v7.3h-1.8zM2156.5,880.2h2.1v5.7h-2.1zM2164.6,968.9h1.9v6.8h-1.9zM2096.7,791.0h2.0v3.9h-2.0zM2221.4,795.1h2.7v8.7h-2.7zM2138.1,1086.8h2.7v7.0h-2.7zM2099.7,868.4h2.4v4.8h-2.4zM2133.1,794.9h1.9v7.7h-1.9zM2154.1,851.6h2.5v8.7h-2.5zM2144.8,662.0h3.0v8.0h-3.0zM2229.4,901.7h1.9v3.9h-1.9zM2146.7,870.4h1.6v7.2h-1.6zM2218.7,646.5h2.8v5.9h-2.8zM2251.2,877.5h2.7v5.7h-2.7zM2199.2,889.6h1.5v3.9h-1.5zM2134.5,843.1h2.1v6.2h-2.1zM2207.1,840.0h2.0v6.1h-2.0zM2257.0,1031.4h2.5v7.9h-2.5zM2133.7,690.5h1.6v3.7h-1.6zM2096.6,952.8h2.9v3.7h-2.9zM2211.8,1110.3h2.6v3.9h-2.6zM2203.5,767.7h1.8v3.1h-1.8zM2184.3,1099.5h1.7v3.9h-1.7zM2161.0,659.3h2.2v7.4h-2.2zM2173.3,659.5h1.5v4.2h-1.5zM2208.4,1102.5h2.3v3.6h-2.3zM2131.7,848.0h1.7v3.7h-1.7zM2168.8,1060.3h1.9v8.3h-1.9zM2243.9,856.4h1.8v4.1h-1.8zM2208.5,1052.8h2.8v4.3h-2.8zM2167.5,651.0h2.0v4.8h-2.0zM2116.0,678.1h3.0v4.8h-3.0zM2179.8,907.2h2.2v6.5h-2.2zM2180.4,885.2h1.6v6.8h-1.6zM2208.7,1002.0h2.0v5.8h-2.0zM2232.1,1003.9h1.6v5.0h-1.6zM2124.1,995.5h2.1v5.3h-2.1zM2132.9,867.1h2.6v6.8h-2.6zM2132.7,837.6h2.4v3.3h-2.4zM2248.4,651.5h2.4v3.9h-2.4zM2257.6,985.9h1.8v6.0h-1.8zM2238.7,1067.0h2.5v6.8h-2.5zM2221.2,1097.8h2.3v6.7h-2.3zM2230.7,895.3h1.8v6.5h-1.8zM2154.4,997.1h2.6v8.4h-2.6zM2113.5,651.2h2.9v7.4h-2.9zM2264.6,1046.9h2.9v3.9h-2.9zM2126.6,946.5h2.6v3.7h-2.6zM2256.2,754.9h1.8v5.6h-1.8zM2126.0,684.9h1.6v3.2h-1.6zM2120.6,979.7h2.7v7.6h-2.7zM2166.0,1016.4h1.7v8.2h-1.7zM2164.7,701.4h2.1v4.2h-2.1zM2221.3,827.1h1.5v4.2h-1.5zM2108.6,1115.8h2.1v7.7h-2.1zM2195.9,846.2h2.6v6.3h-2.6zM2102.4,1137.0h2.0v6.9h-2.0zM2165.9,1121.2h1.8v3.3h-1.8zM2102.2,840.1h2.8v5.7h-2.8zM2253.3,711.5h2.9v4.0h-2.9zM2245.3,737.5h2.4v6.7h-2.4zM2260.1,846.0h2.8v3.3h-2.8zM2247.9,899.3h2.3v8.8h-2.3zM2148.4,947.1h2.4v4.8h-2.4zM2119.9,854.6h1.9v6.7h-1.9zM2164.4,681.2h2.5v8.5h-2.5zM2199.9,788.9h2.0v8.7h-2.0zM2170.5,1002.4h1.6v7.9h-1.6zM2246.9,770.4h2.0v6.9h-2.0zM2257.0,1033.1h1.5v3.7h-1.5zM2246.1,840.9h2.9v5.7h-2.9zM1271.8,1090.4h2.9v4.7h-2.9zM1291.3,1053.5h2.5v3.7h-2.5zM1232.2,938.3h2.6v4.5h-2.6zM1270.1,914.3h2.8v8.7h-2.8zM1262.1,1159.4h1.6v7.9h-1.6zM1300.0,854.3h2.6v6.4h-2.6zM1306.4,875.6h2.3v8.3h-2.3zM1281.1,911.3h1.6v8.6h-1.6zM1267.9,1158.7h1.7v7.9h-1.7zM1295.1,1131.2h1.5v5.2h-1.5zM1234.1,1070.7h2.0v8.8h-2.0zM1260.0,1078.8h2.8v4.4h-2.8zM1274.5,1144.7h2.3v5.2h-2.3zM1251.4,1083.1h1.8v6.6h-1.8zM1274.4,999.3h1.7v7.0h-1.7zM1303.3,914.8h2.0v8.5h-2.0zM1276.3,898.1h1.5v7.5h-1.5zM1257.8,968.2h1.9v6.8h-1.9zM1288.3,911.5h1.6v8.9h-1.6zM1302.8,807.4h2.3v7.1h-2.3zM1262.2,1063.4h2.9v6.5h-2.9zM1261.3,870.4h1.9v3.9h-1.9zM1238.8,876.5h2.8v6.2h-2.8zM1294.4,1131.3h2.7v3.3h-2.7zM1304.1,833.4h2.7v8.0h-2.7zM1282.6,945.3h1.6v3.5h-1.6zM1280.9,887.0h2.3v4.6h-2.3zM1243.1,906.3h2.6v5.9h-2.6zM1261.4,975.1h2.3v6.1h-2.3zM1265.6,1148.3h2.6v4.4h-2.6zM1255.5,868.0h2.0v3.2h-2.0zM1289.6,1004.4h2.1v8.4h-2.1zM1256.3,1008.3h2.9v6.3h-2.9zM1279.0,932.5h3.0v7.5h-3.0zM1254.3,928.0h2.4v6.1h-2.4zM1271.9,869.2h2.4v7.2h-2.4zM1291.2,961.8h2.2v6.0h-2.2zM1272.9,971.0h1.5v4.6h-1.5zM1309.0,1097.5h2.2v7.5h-2.2zM1246.9,896.2h2.3v7.2h-2.3zM1232.2,969.8h2.9v6.7h-2.9zM1309.4,835.5h2.9v8.0h-2.9zM1232.1,993.2h2.6v4.3h-2.6zM1281.9,1106.2h2.7v5.6h-2.7zM1234.7,994.1h1.8v6.2h-1.8zM1251.6,925.0h2.3v7.9h-2.3zM1308.0,946.0h1.5v7.5h-1.5zM1257.1,1072.7h2.7v3.2h-2.7zM1288.5,902.5h2.0v5.0h-2.0zM1273.1,887.6h2.2v4.7h-2.2zM1084.5,1051.3h2.0v4.2h-2.0zM1109.2,987.7h2.2v5.7h-2.2zM1091.2,896.4h2.5v4.9h-2.5zM1124.0,1099.1h2.8v8.7h-2.8zM1088.8,890.2h2.6v6.5h-2.6zM1086.1,1057.5h2.8v8.0h-2.8zM1087.3,913.6h1.5v8.9h-1.5zM1087.6,1076.3h2.3v6.6h-2.3zM1112.1,1113.7h2.4v4.8h-2.4zM1079.2,981.4h2.9v3.9h-2.9zM1124.7,1039.8h1.7v4.2h-1.7zM1124.9,966.1h2.1v5.9h-2.1zM1078.1,1067.7h2.4v6.2h-2.4zM1097.2,1108.4h2.7v6.3h-2.7zM1077.1,856.2h1.7v3.5h-1.7zM1121.9,1006.5h1.8v8.5h-1.8zM1120.4,1101.0h2.7v7.1h-2.7zM1112.1,1174.2h1.7v7.1h-1.7zM1140.7,981.8h2.7v4.1h-2.7zM1103.3,902.9h2.1v7.2h-2.1zM1081.5,928.6h2.8v4.8h-2.8zM1080.1,1177.9h2.3v3.1h-2.3zM1115.7,855.5h1.7v7.4h-1.7zM1122.2,962.0h2.3v6.4h-2.3zM1106.7,838.5h2.7v7.6h-2.7zM1103.8,953.5h2.4v5.8h-2.4zM1103.2,1132.9h2.9v3.9h-2.9zM1083.8,1098.1h2.9v7.4h-2.9zM1093.8,822.2h2.7v8.6h-2.7zM1130.7,1079.7h3.0v6.1h-3.0zM1144.4,899.7h1.6v8.0h-1.6zM1125.9,1102.7h1.7v4.8h-1.7zM1117.0,824.5h2.0v6.6h-2.0zM1144.9,1073.3h2.1v5.4h-2.1zM1111.0,1081.8h3.0v3.1h-3.0zM1144.0,1105.0h1.6v4.5h-1.6zM1091.9,881.9h1.7v3.8h-1.7zM1124.1,966.4h1.7v8.1h-1.7zM1136.8,898.9h2.7v7.7h-2.7zM1112.4,833.4h2.6v8.2h-2.6zM1141.0,1161.0h1.7v8.9h-1.7zM1077.5,938.2h2.3v6.8h-2.3zM1112.4,1144.7h2.7v8.2h-2.7zM1124.1,973.1h1.5v6.9h-1.5zM1144.8,872.4h3.0v3.1h-3.0zM1101.8,1085.3h2.6v6.5h-2.6zM1092.4,893.6h1.7v6.9h-1.7zM1071.5,849.1h2.6v5.7h-2.6zM1071.4,961.3h2.9v6.1h-2.9zM1091.5,852.0h2.2v4.5h-2.2zM1050.1,1052.7h3.0v7.1h-3.0zM1039.6,1099.3h2.6v4.9h-2.6zM1034.7,937.3h2.7v5.6h-2.7zM1029.0,951.6h2.6v7.4h-2.6zM1032.5,895.6h2.4v7.3h-2.4zM1039.4,1041.4h3.6v6.5h-3.6zM1028.7,1040.2h3.5v6.4h-3.5zM1049.4,945.8h3.8v9.0h-3.8zM1054.3,1089.9h2.5v7.3h-2.5zM1052.1,1056.3h2.8v4.8h-2.8zM1048.2,903.0h3.4v4.0h-3.4zM1041.8,985.5h2.2v6.9h-2.2zM1043.5,961.2h3.8v9.2h-3.8zM1057.9,933.9h2.1v6.3h-2.1zM1029.2,1035.2h2.5v4.8h-2.5zM1035.5,968.8h3.5v6.8h-3.5zM1036.1,1029.0h2.1v5.3h-2.1zM1050.4,1045.5h2.2v4.4h-2.2zM1043.7,1024.4h2.0v6.6h-2.0zM1035.2,898.7h2.3v5.7h-2.3zM1042.3,904.7h3.2v9.3h-3.2zM1050.3,895.0h3.3v7.8h-3.3zM1025.3,964.6h3.3v9.7h-3.3zM1059.4,1005.3h3.2v9.8h-3.2zM1032.8,992.0h2.1v8.6h-2.1zM1049.2,926.3h2.4v7.1h-2.4zM1052.8,909.9h2.6v7.1h-2.6zM1034.7,1074.6h3.5v9.7h-3.5zM1048.7,1029.9h2.6v7.0h-2.6zM1040.9,985.3h2.1v9.1h-2.1zM1030.7,980.8h3.9v7.1h-3.9zM1057.1,937.3h2.9v6.3h-2.9zM1037.0,961.3h2.9v9.1h-2.9zM1060.9,900.8h3.3v7.2h-3.3zM1040.3,889.0h2.7v5.9h-2.7zM1038.6,1010.6h2.7v5.8h-2.7zM1035.1,1095.0h2.8v9.8h-2.8zM1031.1,1026.1h3.1v8.3h-3.1zM1044.0,1072.3h3.2v4.3h-3.2zM1050.3,1014.9h2.5v8.4h-2.5zM708.6,938.6h2.6v8.4h-2.6zM692.5,907.8h2.9v8.2h-2.9zM700.3,623.3h2.1v9.0h-2.1zM688.6,714.7h2.9v5.7h-2.9zM691.2,713.3h2.9v5.0h-2.9zM696.7,902.9h2.7v6.0h-2.7zM688.0,869.7h1.6v3.6h-1.6zM690.8,943.0h1.9v7.1h-1.9zM690.1,591.8h1.5v7.2h-1.5zM707.5,654.0h1.9v3.1h-1.9zM702.1,703.5h1.7v6.9h-1.7zM701.0,792.9h1.7v6.8h-1.7zM699.9,784.1h1.7v8.6h-1.7zM707.6,940.8h3.0v6.5h-3.0zM694.6,591.0h2.4v6.1h-2.4zM696.9,1125.5h2.8v3.7h-2.8zM708.1,521.2h2.5v4.9h-2.5zM704.2,1101.0h2.3v7.6h-2.3zM687.4,927.1h1.7v5.7h-1.7zM694.3,564.6h2.6v3.6h-2.6zM692.4,572.4h2.5v4.8h-2.5zM687.1,536.6h1.8v6.0h-1.8zM686.3,534.5h2.5v6.2h-2.5zM689.4,710.4h1.7v4.7h-1.7zM695.7,653.0h1.8v4.4h-1.8zM693.5,858.6h2.8v6.9h-2.8zM697.2,522.0h1.8v6.8h-1.8zM696.1,1036.7h2.9v4.8h-2.9zM695.1,701.9h2.5v3.6h-2.5zM692.9,1055.9h2.1v8.8h-2.1zM695.9,1030.5h2.2v3.6h-2.2zM700.4,648.9h2.9v7.2h-2.9zM699.2,1082.8h2.3v8.8h-2.3zM703.9,629.2h1.9v8.1h-1.9zM688.5,1118.7h1.6v7.5h-1.6zM701.5,767.7h2.4v6.5h-2.4zM695.0,692.6h1.6v6.9h-1.6zM708.0,749.3h2.8v5.4h-2.8zM692.4,1008.4h2.9v3.6h-2.9zM707.8,714.7h2.7v4.8h-2.7zM710.8,725.4h1.8v3.3h-1.8zM689.4,575.7h2.7v3.1h-2.7zM688.9,666.1h1.7v7.7h-1.7zM686.2,935.6h2.0v3.9h-2.0zM691.7,841.1h1.9v5.3h-1.9zM695.7,847.0h2.6v4.7h-2.6zM701.2,956.1h1.9v7.6h-1.9zM688.1,820.9h2.0v3.8h-2.0zM702.5,1039.6h2.2v5.1h-2.2zM708.6,1124.3h2.4v6.4h-2.4zM702.0,948.9h2.5v6.2h-2.5zM704.8,975.4h2.5v6.2h-2.5zM695.3,650.5h2.3v4.8h-2.3zM697.8,629.4h2.9v3.8h-2.9zM708.0,865.7h2.9v8.3h-2.9zM690.3,687.5h3.0v7.0h-3.0zM688.1,681.0h1.6v4.8h-1.6zM687.9,544.1h1.6v5.8h-1.6zM703.8,830.2h2.5v6.9h-2.5zM689.4,950.0h2.3v5.5h-2.3zM962.9,1009.0h2.5v5.9h-2.5zM965.4,1034.2h2.7v6.1h-2.7zM979.2,897.8h1.5v5.2h-1.5zM983.1,857.0h2.7v4.4h-2.7zM966.2,850.4h3.0v7.4h-3.0zM997.0,990.9h1.6v5.0h-1.6zM978.9,868.4h2.9v5.2h-2.9zM962.4,1040.3h1.7v8.6h-1.7zM976.8,975.2h2.0v5.9h-2.0zM964.0,849.1h2.8v4.4h-2.8zM992.5,891.1h3.0v8.4h-3.0zM991.2,1026.9h2.4v7.4h-2.4zM960.9,956.7h2.7v4.2h-2.7zM999.3,1057.5h2.1v5.2h-2.1zM976.7,934.5h3.0v5.3h-3.0zM956.3,862.8h2.6v9.0h-2.6zM978.8,960.4h2.3v7.5h-2.3zM965.7,989.2h2.3v6.7h-2.3zM963.7,881.7h2.0v8.6h-2.0zM971.6,986.3h2.0v3.6h-2.0zM958.2,1039.4h2.7v5.2h-2.7zM987.8,1005.6h2.8v8.7h-2.8zM974.5,1082.3h2.9v6.5h-2.9zM997.4,960.3h2.1v4.5h-2.1zM997.1,879.8h1.6v7.8h-1.6zM992.1,958.4h2.8v3.3h-2.8zM967.4,911.0h2.1v4.0h-2.1zM958.3,922.8h2.8v8.9h-2.8zM990.8,957.3h1.9v8.8h-1.9zM980.2,1018.5h1.5v4.3h-1.5zM1436.0,896.5h1.5v9.0h-1.5zM1362.5,891.4h2.5v5.1h-2.5zM1429.5,920.3h2.9v4.9h-2.9zM1402.1,1102.3h2.5v8.5h-2.5zM1412.3,872.6h2.8v6.5h-2.8zM1374.5,909.4h2.8v6.5h-2.8zM1434.1,1061.2h2.9v6.4h-2.9zM1411.3,1019.2h1.9v8.7h-1.9zM1374.7,1063.1h2.9v6.9h-2.9zM1358.5,1074.6h2.5v4.1h-2.5zM1349.7,998.3h1.5v8.6h-1.5zM1393.1,994.5h2.1v7.0h-2.1zM1432.1,939.9h2.1v6.5h-2.1zM1373.2,1014.9h2.3v5.6h-2.3zM1409.0,997.3h1.6v9.0h-1.6zM1378.8,972.3h2.1v8.6h-2.1zM1435.5,993.1h2.1v3.6h-2.1zM1430.1,904.6h2.3v5.1h-2.3zM1376.2,952.9h1.8v3.2h-1.8zM1395.9,1066.9h2.5v4.2h-2.5zM1410.9,873.5h2.1v8.0h-2.1zM1432.5,979.7h2.8v6.0h-2.8zM1394.8,1012.0h3.0v7.5h-3.0zM1389.9,1049.1h2.5v5.1h-2.5zM1419.5,1073.1h2.4v8.7h-2.4zM1346.7,990.0h2.5v5.0h-2.5zM1361.3,1039.9h2.2v4.6h-2.2zM1349.0,1111.5h2.0v3.7h-2.0zM1365.6,926.3h2.8v4.1h-2.8zM1371.3,885.3h2.2v4.2h-2.2zM1377.7,1051.1h2.9v8.0h-2.9zM1348.6,958.2h2.8v3.2h-2.8zM1364.3,987.4h2.1v7.5h-2.1zM1413.2,980.8h1.9v4.4h-1.9zM1370.3,877.0h2.5v3.9h-2.5zM1429.5,1027.9h1.6v6.0h-1.6zM1402.3,871.0h2.2v3.2h-2.2zM1417.8,861.1h2.4v8.9h-2.4zM1425.4,920.7h2.3v3.8h-2.3zM1377.5,1084.6h2.7v3.1h-2.7zM1381.1,1026.5h1.8v7.8h-1.8zM1429.8,1003.4h2.0v8.1h-2.0zM1393.7,909.0h1.9v4.0h-1.9zM1424.7,992.6h2.5v7.9h-2.5zM1437.5,909.5h2.1v8.2h-2.1zM1417.4,960.6h2.5v4.2h-2.5zM1360.4,873.2h2.1v4.4h-2.1zM1394.2,1112.1h1.7v6.3h-1.7zM1427.1,1015.6h2.3v7.6h-2.3zM1347.1,1106.6h2.5v7.8h-2.5z"/>
<path d="M714,537h0M714,626h0M714,772h0M716,960h0M716,1005h0M706.5,391.4h0M693.9,406.5h0M738,405.2h0M694,477h0M701.5,484.7h0M687.6,491h0M755.7,496h0M701.5,506h0M707.8,511h0M738,674h0M738,687h0M755.7,572h0M755.7,635h0M718,826h0M706,1185h0M754.5,1198h0M754.5,1219h0M880.6,454.4h0M880.6,536.5h0M887,539h0M886.4,574.3h0M886.4,604.6h0M886.4,624.8h0M892,682.8h0M923,691.7h0M923,706.8h0M885.7,714.4h0M892,720.7h0M880.6,730.8h0M898.3,752.2h0M898.3,767.4h0M923,776.2h0M923.5,616h0M923.5,636h0M923.5,677.8h0M911,715.6h0M886,822h0M905,830h0M923,830h0M930,825h0M923,840h0M929,859h0M929,878h0M922,883h0M923,899h0M923,918h0M935,939.5h0M910,975h0M1009,1038h0M1015,1054h0M967,1100h0M966.8,726h0M979.5,771h0M1028.6,824h0M1028.6,866h0M1046.8,874h0M1028.6,883h0M1035,1108h0M1208.8,1055h0M1165,942h0M1276,676h0M1301,674h0M1257.6,709h0M1276,708h0M1301,708h0M1276,723h0M1290,725h0M1276,748h0M1301,752h0M1326,749h0M1436,732h0M1436,760h0M1436,799h0M1424,832h0M1437.5,851h0M1436.6,732.5h0M1436.6,761.6h0M1436.6,798.8h0M1517,620h0M1517,632h0M1512,624h0M1517.5,571h0M1521.4,586.7h0M1536,573.5h0M1536,767h0M1535.7,1151h0M1573.5,1148.4h0M1598,1140h0M1604,1163h0M1628.6,1147h0M1585,1199h0M1678.7,242h0M1690,256.7h0M1690,271h0M1660,304.5h0M1678.7,300h0M1668.6,314.7h0M1654,358h0M1678.7,385.8h0M1641,414.8h0M1654,458h0M1678.7,494.5h0M1709,501.8h0M1646.8,501.8h0M1660,512h0M1671.5,520.6h0M1728,535h0M1647,396h0M1654,581.4h0M1668,483h0M1646.6,499.7h0M1659.7,511h0M1672.8,521h0M1677.7,493h0M1708.9,503h0M1647.4,801.8h0M1641.6,833.7h0M1653,907.6h0M1641.6,1058.5h0M1647.4,1086h0M1663.4,1084.6h0M1648,801h0M1643,832.5h0M1685,1185h0M1741.6,652h0M1741.6,793h0M1745,939h0M1876.7,330h0M1886,336h0M1894,342h0M1900,359h0M1920,366.5h0M1920,394h0M1933,395.5h0M1958,405.7h0M1975.3,410h0M1994,416h0M1969.5,427.4h0M1982.5,427.4h0M1920,417h0M2026,317h0M2026,334.6h0M2026,532h0M2025.4,1224.5h0M2025.4,1237h0M2000,410h0M2000,425h0M2000,440h0M2082.8,608h0M2084,609h0M2044.3,897.5h0M2003,722h0M2003,705h0M2083.7,942h0M2081.4,1027h0M2105.8,279h0M2130.4,313h0M2138,322.5h0M2149.3,328h0M2136,332h0M2099,360.3h0M2137,355.6h0M2119,364h0M2128.5,369.8h0M2124.7,377.3h0M2092.6,392.5h0M2105.8,411.4h0M2122.8,422.8h0M2150.3,420h0M2093.5,438h0M2093.5,470h0M2124.7,464.4h0M2141.8,468h0M2104,492.8h0M2098,506h0M2119,506h0M2105.8,519.3h0M2100,542h0M2092.6,534.4h0M2166.4,453h0M2231,250h0M2240,256h0M2247,262h0M2231,268h0M2240,275h0M2252,270h0M2237,284h0M2250,284h0M2228,281h0M2245,246h0M2256,258h0M2106,209h0M2106,226.4h0M2093,233.7h0M2106,280h0M2199,257h0M2199,273h0M2235.3,228h0M2248.4,239.5h0M2261.4,257h0M2261.4,274h0M2136.8,1197h0M2136.8,1212h0M2155.7,1178h0M2168,1180h0M2179.3,1243.4h0M2199.2,1237.7h0M2199.2,1250h0M2217,1277.5h0M2199.2,1277.5h0M2199.2,1290.7h0M2241.8,1251h0M2261.6,1183h0M2261.6,1233h0M2106.0,434.8h0M2158.0,337.1h0M2132.0,369.2h0M2145.0,425.1h0M2099.5,299.7h0M2164.5,366.4h0M2132.0,414.1h0M2112.5,451.0h0M2093.0,384.3h0M2171.0,357.9h0M2112.5,364.6h0M2099.5,331.6h0M2132.0,376.8h0M2112.5,333.1h0M2112.5,370.8h0M2119.0,298.5h0M2164.5,386.8h0M2145.0,325.7h0M2177.5,436.9h0M2106.0,349.9h0M2151.5,412.3h0M2171.0,364.6h0M2164.5,405.6h0M2119.0,392.0h0M2164.5,434.6h0M2138.5,392.2h0M2099.5,335.1h0M2158.0,363.4h0M2106.0,385.6h0M2151.5,406.3h0M2125.5,367.4h0M2138.5,423.4h0M2138.5,359.9h0M2132.0,299.9h0M2099.5,411.1h0M2177.5,392.9h0M2125.5,323.1h0M2132.0,457.0h0M2158.0,384.0h0M2164.5,333.3h0M2138.5,452.2h0M2138.5,370.8h0M2119.0,385.4h0M2158.0,430.4h0M2164.5,417.2h0M2171.0,636.3h0M2099.5,475.8h0M2164.5,596.9h0M2151.5,517.3h0M2145.0,572.9h0M2138.5,489.5h0M2132.0,533.2h0M2151.5,645.0h0M2171.0,561.2h0M2132.0,509.9h0M2099.5,465.1h0M2132.0,519.2h0M2125.5,625.9h0M2138.5,564.3h0M2112.5,464.4h0M2119.0,485.4h0M2138.5,645.8h0M2151.5,493.8h0M2164.5,608.2h0M2151.5,628.6h0M2158.0,606.9h0M2125.5,642.5h0M2171.0,490.0h0M2158.0,593.0h0M2132.0,558.6h0M2132.0,632.0h0M2132.0,614.7h0M2125.5,624.2h0M2171.0,545.7h0M2138.5,631.2h0M2151.5,550.5h0M2112.5,520.4h0M2151.5,490.9h0M2171.0,509.9h0M2171.0,517.6h0M2171.0,591.4h0M2138.5,556.3h0M2145.0,569.4h0M2119.0,498.7h0M2138.5,633.8h0M2145.0,474.0h0M2164.5,595.0h0M2171.0,495.6h0M2158.0,470.9h0M2145.0,510.8h0M2112.5,622.8h0M2099.5,557.2h0M2164.5,505.5h0M2112.5,623.8h0M2125.5,593.4h0M2099.5,527.4h0M2106.0,585.1h0M2099.5,637.5h0M2093.0,595.7h0M2093.0,507.6h0M2158.0,489.2h0M2106.0,588.6h0M2125.5,468.0h0M2177.5,488.2h0M2099.5,524.0h0M2145.0,598.1h0M2106.0,522.7h0M2099.5,543.4h0M2158.0,597.6h0M2171.0,600.6h0M2164.5,591.2h0M2132.0,501.9h0M2145.0,518.8h0M2099.5,543.3h0M2164.5,483.7h0M2145.0,533.1h0M2138.5,486.8h0M2171.0,508.2h0M2145.0,538.1h0M2093.0,563.8h0M2106.0,470.6h0M2099.5,490.0h0M2099.5,578.1h0M2138.5,642.9h0M2171.0,645.0h0M2112.5,542.7h0M2112.5,570.0h0M2145.0,608.8h0M2151.5,507.7h0M2125.5,557.9h0M2093.0,466.6h0M2125.5,480.7h0M2151.5,504.8h0M2099.5,493.8h0M2112.5,500.4h0M2138.5,546.4h0M2119.0,579.4h0M2112.5,628.6h0M2171.0,595.6h0M2132.0,555.1h0M2138.5,469.5h0M2125.5,557.7h0M2106.0,477.4h0M2158.0,528.1h0M2138.5,631.4h0M2145.0,513.9h0M2177.5,529.2h0M2093.0,587.5h0M2099.5,516.9h0M2164.5,585.1h0M2093.0,544.0h0M2125.5,550.4h0M2112.5,569.5h0M2099.5,512.9h0M2125.5,634.0h0M2099.5,600.4h0M2112.5,566.3h0M2125.5,546.2h0M2158.0,533.5h0M2106.0,482.6h0M2099.5,618.1h0M2145.0,638.5h0M2151.5,464.6h0M2145.0,604.6h0M2151.5,552.6h0M2125.5,545.0h0M2158.0,510.0h0M2138.5,548.8h0M2171.0,609.6h0M2171.0,615.5h0M2119.0,503.1h0M2132.0,508.2h0M2132.0,586.3h0M2171.0,569.0h0M2158.0,477.8h0M2125.5,645.6h0M2106.0,537.5h0M2099.5,476.0h0M2164.5,643.9h0M2145.0,483.9h0M2119.0,503.1h0M2151.5,586.7h0M2132.0,557.5h0M2106.0,560.6h0M2171.0,600.6h0M1778,1216.3h0M1818.4,1209h0M1821.7,1218.8h0M1833,1206.5h0M1845.5,1220.4h0M1864.3,1206.5h0M1879,1222h0M1882.4,1243.4h0M1969.3,1217h0M1995.5,1210.6h0M1898,1226h0M1800,1185h0M1760,1125h0M706.5,431.7V448M738,518V566M738,572V651M738,698V753M738,761V771M744,761V771M755.7,665V680M755.7,764V800M737,1075V1092M743,1075V1092M917.2,593V672M911,725.8V753.5M923,738V753.5M923,780V804M923,948V984M923,991V1045M929,995V1030M966.8,699V708M979.5,785V822M1165.4,993V1008M1439,820V836M1294.4,740V756M1533,612V670M1539,612V670M1519,568V595M1585,1157V1177M1628.6,1087.5V1116.5M1668,268V290M1653,539V565M1662,539V565M1728.5,537V610M1653,855V867M1666,1113.6V1134M1704,1084.6V1116.5M1704,1131V1148.4M1940.5,411.5V429M2026,487V513M2026,559V1211.6M2079.7,496V515M2105.8,337.6V349M2105.8,390.6V400M2092.6,411V423M2138,392.5V438M2105.8,460.6V477.6M2211.5,1260.4V1266M1795.4,1196V1217M284,984.5L676,984.5M762,991L775,990L790,985L810,983L850,982L862,986L877,984M940,950L947,962M1169.7,1056L1195.7,1023M1233,713L1244,727M1651,323L1668,341M1663,462L1677,486M1673,1170L1680,1190L1678,1203M1846,273L1854,287M2115,1175L2125,1185" stroke="#0000ff" stroke-width="12.4" stroke-linecap="round" stroke-linejoin="round" fill="none"/>
<path d="M682,54V1355M763.5,54V1355M953,54V1355M2089,54V1355" stroke="#ff0000" stroke-width="4" fill="none"/>
<rect x="323.2" y="80.6" width="907.2" height="297.8" fill="#fff" stroke="#777" stroke-width="2.8"/>
<g transform="translate(361.5,160) scale(0.982,1)"><text x="0" y="0" font-size="86">P<tspan font-size="56" dy="12">n</tspan><tspan dy="-12">:Periodic motion</tspan></text></g>
<g transform="translate(360.6,252.5) scale(0.982,1)"><text x="0" y="0" font-size="86">Q:Quasi-periodic motion</text></g>
<g transform="translate(360.6,345) scale(0.982,1)"><text x="0" y="0" font-size="86">C:Chaotic motion</text></g>
<text x="451" y="871" font-size="86" fill="#ff0000">P<tspan font-size="56" dy="12">n</tspan></text>
<text x="830" y="1125" font-size="86" fill="#ff0000">P<tspan font-size="56" dy="12">n</tspan></text>
<text x="1204" y="530" font-size="86" fill="#ff0000">P<tspan font-size="56" dy="12">n</tspan><tspan dy="-12">/C</tspan></text>
<text x="644" y="1299" font-size="86" fill="#ff0000">P<tspan font-size="56" dy="12">n</tspan><tspan dy="-12">/C</tspan></text>
<text x="2154" y="174" font-size="86" fill="#ff0000">C</text>
<text x="263" y="81" font-size="86" text-anchor="end">5.0</text>
<text x="252" y="731" font-size="86" text-anchor="end">1.5</text>
<text x="265" y="1380" font-size="86" text-anchor="end">-2.0</text>
<text x="279" y="1442" font-size="86" text-anchor="middle">7.0</text>
<text x="771" y="1442" font-size="86" text-anchor="middle">23</text>
<text x="1271" y="1442" font-size="86" text-anchor="middle">39</text>
<text x="1764" y="1442" font-size="86" text-anchor="middle">55</text>
<text x="2257.5" y="1442" font-size="86" text-anchor="middle">71</text>
<g transform="translate(1021.5,1543) scale(0.98,1)"><text x="0" y="0" font-size="86" xml:space="preserve">Speed  <tspan font-style="italic">ω</tspan>/rad/s</text></g>
<g transform="translate(82,1067) rotate(-90) scale(0.986,1)"><text x="0" y="0" font-size="86"><tspan font-style="italic">y</tspan><tspan font-size="56" dy="12">1</tspan><tspan dy="-12"> Amplitude/m×10</tspan><tspan font-size="56" dy="-22">-3</tspan></text></g>
</g>
</svg>
</body></html>
